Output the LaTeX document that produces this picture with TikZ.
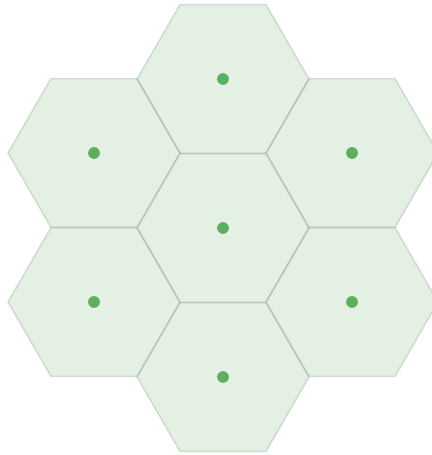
\documentclass[tikz,border=0pt]{standalone}
\usepackage{xcolor}
\usepackage{tikz}
\definecolor{cellFill}{HTML}{E4F0E4}
\definecolor{cellEdge}{HTML}{7F957F}
\definecolor{siteGreen}{HTML}{5DAF5F}

\tikzset{
    cell/.style={
        fill=cellFill,
        draw=cellEdge,
        draw opacity=0.28,
        line width=1.3pt,
        line join=miter
    },
    site/.style={
        circle,
        fill=siteGreen,
        inner sep=0pt,
        minimum size=10pt
    }
}

\begin{document}
\begin{tikzpicture}[x=0.03cm, y=-0.03cm]

        % Marco de la imagen
        \clip (0,0) rectangle (432,455);

        % =====================================================
        % CELDAS HEXAGONALES
        % =====================================================

        \foreach \cx/\cy in {223/228, 223/79, 223/377, 94/153, 352/153, 94/302, 352/302}{
            \fill[cellFill] (\cx,\cy) ++(0:86) -- ++(120:86) -- ++(180:86)
                -- ++(240:86) -- ++(300:86) -- ++(0:86) -- cycle;
        }

        \foreach \cx/\cy in {223/228, 223/79, 223/377, 94/153, 352/153, 94/302, 352/302}{
            \draw[cell, fill=none] (\cx,\cy) ++(0:86) -- ++(120:86) -- ++(180:86)
                -- ++(240:86) -- ++(300:86) -- ++(0:86) -- cycle;
        }

        % =====================================================
        % PUNTOS GENERADORES
        % =====================================================

        \node[site] (centro) at (223,228) {};
        \node[site] (arriba) at (223,79) {};
        \node[site] (abajo) at (223,377) {};
        \node[site] (arribaIzq) at (94,153) {};
        \node[site] (arribaDer) at (352,153) {};
        \node[site] (abajoIzq) at (94,302) {};
        \node[site] (abajoDer) at (352,302) {};

    \end{tikzpicture}
\end{document}
